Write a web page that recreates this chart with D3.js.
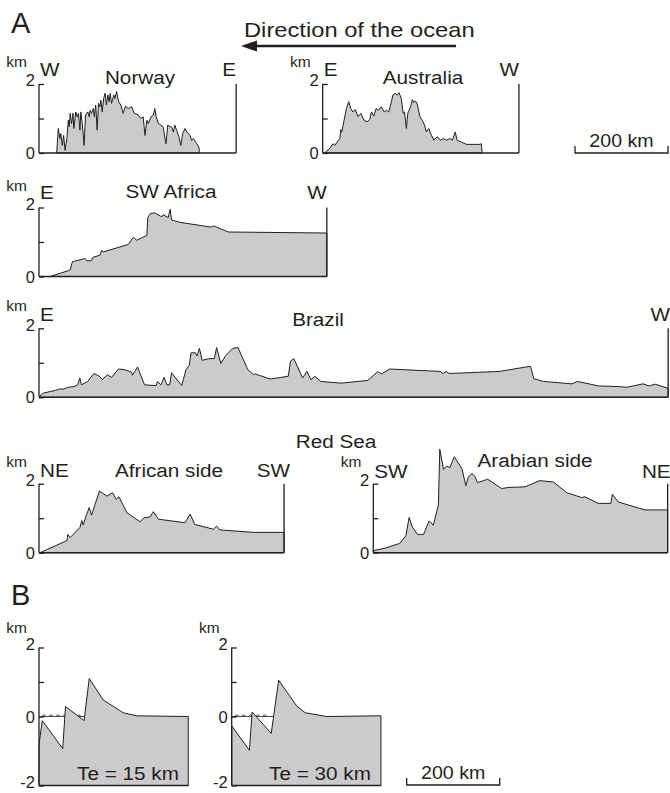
<!DOCTYPE html>
<html><head><meta charset="utf-8">
<script src="https://cdn.jsdelivr.net/npm/d3@7"></script>
<style>
body{margin:0;background:#fff}
svg{display:block}
text{font-family:"Liberation Sans",Arial,Helvetica,sans-serif;fill:#231f20}
</style>
</head><body>
<svg id="c" width="670" height="793"></svg>
<script>
// ---------- DATA (distance in km from the left axis, elevation in km) ----------
const norwayDist = [38,41.5,45,47,50,53,56,60,63,65,67,70,73,75,79,82,85,88,90,93,97,100,105,108,110,113,117,119,122,125,128,131,133,136,139,142,145,148,151,153,156,161,163,167,171,176,181,186,192,199,205,214,219,224,228,232,235,241,246,249,252,257,262,267,273,277,282,285,289,292,296,301,305,309,314,318,321,325,328,332,339,344,345];
const norwayElev = [0,0.71,0.42,0.56,0.22,0.51,0.08,0.42,0.95,0.76,1.15,0.85,1.15,0.71,1.19,1.05,1.15,0.66,1.19,0.85,0.22,1.10,1.19,1.05,1.24,1.15,1.29,1.05,1.39,0.66,1.44,1.34,1.53,1.19,1.58,1.73,1.39,1.68,1.49,1.73,1.44,1.68,1.58,1.78,1.49,1.39,1.15,1.36,1.29,1.34,1.15,1.10,1.0,1.05,0.51,0.95,0.85,1.05,1.10,1.29,1.05,0.85,0.81,0.76,0.27,0.81,0.76,0.76,0.61,0.81,0.66,0.47,0.22,0.56,0.71,0.61,0.56,0.51,0.37,0.42,0.27,0.17,0];

const australiaDist = [4,15,22,26,31,37,39,41,46,51,56,60,65,70,76,82,89,96,101,105,110,115,120,126,132,137,142,146,151,156,160,164,169,173,176,180,183,189,193,196,199,203,209,214,219,223,228,234,239,246,254,259,266,273,279,285,289,298,309,338,341,343];
const australiaElev = [0,0.13,0.27,0.22,0.32,0.42,0.68,0.61,0.95,1.29,1.49,1.29,1.19,1.26,1.05,1.15,0.95,0.90,0.97,1.19,1.07,1.29,1.24,1.34,1.19,1.24,1.19,1.39,1.68,1.73,1.68,1.75,1.58,1.15,1.19,0.71,1.15,1.34,1.55,1.46,1.51,1.44,1.05,0.95,0.81,0.61,0.71,0.51,0.37,0.47,0.37,0.42,0.37,0.42,0.37,0.61,0.37,0.32,0.25,0.25,0.27,0];

const swAfricaDist = [24,63,67,72,99,103,113,115,131,135,138,192,203,210,232,234,240,249,264,267,278,282,285,303,371,375,407,619];
const swAfricaElev = [0,0.17,0.19,0.43,0.52,0.45,0.46,0.55,0.62,0.76,0.71,0.93,1.14,1.05,1.19,1.71,1.83,1.84,1.73,1.79,1.71,1.95,1.64,1.57,1.43,1.47,1.29,1.26];

const brazilDist = [2,9,35,44,53,62,75,83,88,91,105,118,130,136,147,156,171,184,199,201,212,227,252,255,262,269,275,281,285,307,316,323,327,336,340,345,351,365,377,382,391,401,417,428,449,461,464,497,536,541,548,567,576,585,593,606,650,707,728,737,754,863,868,876,882,990,1057,1064,1085,1146,1158,1203,1247,1264,1299,1312,1325,1353];
const brazilElev = [0.04,0.12,0.20,0.24,0.24,0.29,0.31,0.36,0.56,0.36,0.46,0.69,0.61,0.51,0.65,0.58,0.82,0.80,0.73,0.64,0.88,0.36,0.34,0.46,0.36,0.58,0.36,0.36,0.71,0.34,0.80,0.92,1.29,1.29,1.20,1.42,1.07,1.12,1.12,1.44,0.98,1.20,1.42,1.44,0.80,0.66,0.68,0.53,0.61,1.05,1.12,0.56,0.75,0.51,0.61,0.46,0.41,0.49,0.74,0.68,0.82,0.75,0.69,0.75,0.69,0.75,0.90,0.54,0.46,0.39,0.46,0.33,0.31,0.29,0.39,0.33,0.38,0.26];

const africanSideDist = [2,60,62,67,88,92,95,101,108,113,130,146,158,166,172,189,217,226,239,246,257,314,325,335,375,382,389,461,527];
const africanSideElev = [0,0.35,0.53,0.44,0.73,0.93,0.80,1.06,1.31,1.09,1.79,1.64,1.74,1.55,1.62,1.16,0.90,1.01,1.04,1.19,0.97,0.87,1.12,0.82,0.68,0.77,0.66,0.59,0.59];

const arabianSideDist = [0,25,57,70,77,84,95,108,120,129,140,143,151,158,165,174,184,191,199,204,212,219,224,246,276,290,326,358,387,416,448,455,484,511,514,527,584,633];
const arabianSideElev = [0.06,0.13,0.27,0.49,1.02,0.75,0.53,0.53,0.92,0.80,1.38,3.0,2.42,2.51,2.47,2.78,2.57,2.42,1.94,2.18,2.30,2.20,2.03,2.13,1.86,1.89,1.91,2.09,2.05,1.74,1.60,1.62,1.43,1.43,1.69,1.47,1.24,1.24];

const te15Dist = [0,7,51,57,97,108,138,181,210,321];
const te15Elev = [-0.81,-0.12,-0.93,0.29,-0.12,1.10,0.48,0.11,0.02,0.0];
const te30Dist = [0,38,44,85,101,140,158,204,321];
const te30Elev = [-0.27,-0.98,0.13,-0.49,1.05,0.30,0.11,0.0,0.02];

const tickValuesA = [0,1,2];
const tickValuesB = [-2,0,1,2];
const tickLabels = {"-2":"-2","0":"0","1":"","2":"2"};
const scaleBarKm = 200;

// ---------- DRAWING ----------
const INK = "#231f20", FILL = "#cbcbcc";
const PX_PER_KM_H = 93/200;   // horizontal
const PX_PER_KM_V = 34.5;      // vertical
const svg = d3.select("#c");

function txt(x, y, s, size, anchor, sx) {
  const t = svg.append("text")
    .attr("transform", `translate(${x},${y}) scale(${sx||1.09},1)`)
    .attr("font-size", size).attr("text-anchor", anchor||"start").text(s);
  return t;
}

function panel(o) {
  const lo = o.lo ?? 0;
  const x = d3.scaleLinear().domain([0, o.widthKm]).range([o.x0, o.x0 + o.widthKm*PX_PER_KM_H]);
  const y = d3.scaleLinear().domain([0, 2]).range([o.y0, o.y0 - 2*PX_PER_KM_V]);
  const data = d3.zip(o.dist, o.elev);
  const g = svg.append("g");

  // sea level (panel B)
  if (o.sea) {
    let cross = 0, imax = d3.maxIndex(o.elev);
    for (let i = 0; i < imax; i++) {
      if (o.elev[i] < 0 && o.elev[i+1] >= 0) {
        cross = o.dist[i] + (o.dist[i+1]-o.dist[i]) * (-o.elev[i])/(o.elev[i+1]-o.elev[i]);
      }
    }
    const x1 = x(cross);
    g.append("line").attr("x1", x(0)).attr("x2", x1).attr("y1", y(0)).attr("y2", y(0))
      .attr("stroke", INK).attr("stroke-width", 0.8);
    const bumps = d3.range(x(0)+5, x1-2, 7);
    g.selectAll(".bump").data(bumps).join("path")
      .attr("d", d => `M${d-1.6},${y(0)} a1.6,1.6 0 0 1 3.2,0`)
      .attr("fill", "none").attr("stroke", INK).attr("stroke-width", 0.8);
  }

  const area = d3.area().x(d => x(d[0])).y0(y(lo)).y1(d => y(d[1]));
  g.append("path").datum(data).attr("d", area)
    .attr("fill", FILL).attr("stroke", INK).attr("stroke-width", 1).attr("stroke-linejoin", "miter");

  // baseline
  g.append("line").attr("x1", x(0)).attr("x2", x(o.widthKm))
    .attr("y1", y(lo)).attr("y2", y(lo)).attr("stroke", INK).attr("stroke-width", 1.4);
  // right vertical
  if (!o.sea) {
    g.append("line").attr("x1", x(o.widthKm)).attr("x2", x(o.widthKm))
      .attr("y1", y(0)).attr("y2", y(2)).attr("stroke", INK).attr("stroke-width", 1.3);
  }
  // left axis
  const ax = d3.axisLeft(y).tickValues(o.ticks).tickSize(-5).tickSizeOuter(0).tickPadding(4)
    .tickFormat(d => tickLabels[String(d)]);
  const ag = g.append("g").attr("transform", `translate(${o.x0},0)`).call(ax);
  ag.selectAll("path,line").attr("stroke", INK).attr("stroke-width", 1.3);
  ag.select(".domain").attr("d", `M0,${y(lo)}V${y(2)}`);
  ag.selectAll("text").attr("font-size", 16.5).attr("fill", INK)
    .attr("font-family", '"Liberation Sans",Arial,sans-serif')
    .attr("dy", d => d === 2 ? "0.12em" : (d === -2 ? "0.12em" : "0.34em"));

  // km unit
  txt(o.x0 - 12, o.kmY ?? (y(2) - 17), "km", 15.5, "end", 1);
  if (o.leftLab) txt(o.x0 + 1, o.dirY, o.leftLab, 19, "start");
  if (o.rightLab) txt(x(o.widthKm) + (o.rightDx||0), o.dirY, o.rightLab, 19, "end");
  if (o.title) txt(o.titleX, o.titleY, o.title, 19, "middle");
  return {x, y};
}

// Panel letters and ocean arrow
txt(11, 33, "A", 29, "start", 1);
txt(244, 37, "Direction of the ocean", 21, "start", 1.13);
svg.append("line").attr("x1", 456).attr("x2", 252).attr("y1", 46).attr("y2", 46)
  .attr("stroke", INK).attr("stroke-width", 2.3);
svg.append("path").attr("d", "M241,46 L257,40.5 L257,51.5 Z").attr("fill", INK);

panel({x0:39, y0:153, widthKm:424, dist:norwayDist, elev:norwayElev, ticks:tickValuesA,
  leftLab:"W", rightLab:"E", dirY:76, title:"Norway", titleX:140, titleY:84});
panel({x0:322.7, y0:153, widthKm:422, dist:australiaDist, elev:australiaElev, ticks:tickValuesA,
  leftLab:"E", rightLab:"W", dirY:76, title:"Australia", titleX:423, titleY:84});
panel({x0:39, y0:276.5, widthKm:619, dist:swAfricaDist, elev:swAfricaElev, ticks:tickValuesA,
  leftLab:"E", rightLab:"W", dirY:199, title:"SW Africa", titleX:171, titleY:198});
panel({x0:39, y0:397.3, widthKm:1353, dist:brazilDist, elev:brazilElev, ticks:tickValuesA,
  leftLab:"E", rightLab:"W", rightDx:2, dirY:321, title:"Brazil", titleX:318, titleY:326});
txt(336, 448, "Red Sea", 19, "middle");
panel({x0:39, y0:552.7, widthKm:527, dist:africanSideDist, elev:africanSideElev, ticks:tickValuesA,
  leftLab:"NE", rightLab:"SW", rightDx:6, dirY:477, title:"African side", titleX:169, titleY:477});
panel({x0:373.3, y0:552.7, widthKm:633, dist:arabianSideDist, elev:arabianSideElev, ticks:tickValuesA,
  leftLab:"SW", rightLab:"NE", rightDx:3, dirY:478, title:"Arabian side", titleX:535, titleY:467});

// scale bar
function scaleBar(x0, yb, label) {
  const s = d3.scaleLinear().domain([0, scaleBarKm]).range([x0, x0 + scaleBarKm*PX_PER_KM_H]);
  svg.append("path").attr("d", `M${s(0)},${yb-7}V${yb}H${s(scaleBarKm)}V${yb-7}`)
    .attr("fill", "none").attr("stroke", INK).attr("stroke-width", 1.3);
  txt((s(0)+s(scaleBarKm))/2, yb - 6, label, 18, "middle");
}
scaleBar(575, 153, scaleBarKm + " km");

// Panel B
txt(11, 605, "B", 29, "start", 1);
panel({x0:39, y0:716.5, lo:-2, sea:true, widthKm:321, dist:te15Dist, elev:te15Elev, ticks:tickValuesB, kmY:633});
panel({x0:231.7, y0:716.5, lo:-2, sea:true, widthKm:321, dist:te30Dist, elev:te30Elev, ticks:tickValuesB, kmY:633});
txt(128, 780, "Te = 15 km", 19, "middle");
txt(320, 780, "Te = 30 km", 19, "middle");
scaleBar(406.7, 785, scaleBarKm + " km");
</script>
</body></html>
